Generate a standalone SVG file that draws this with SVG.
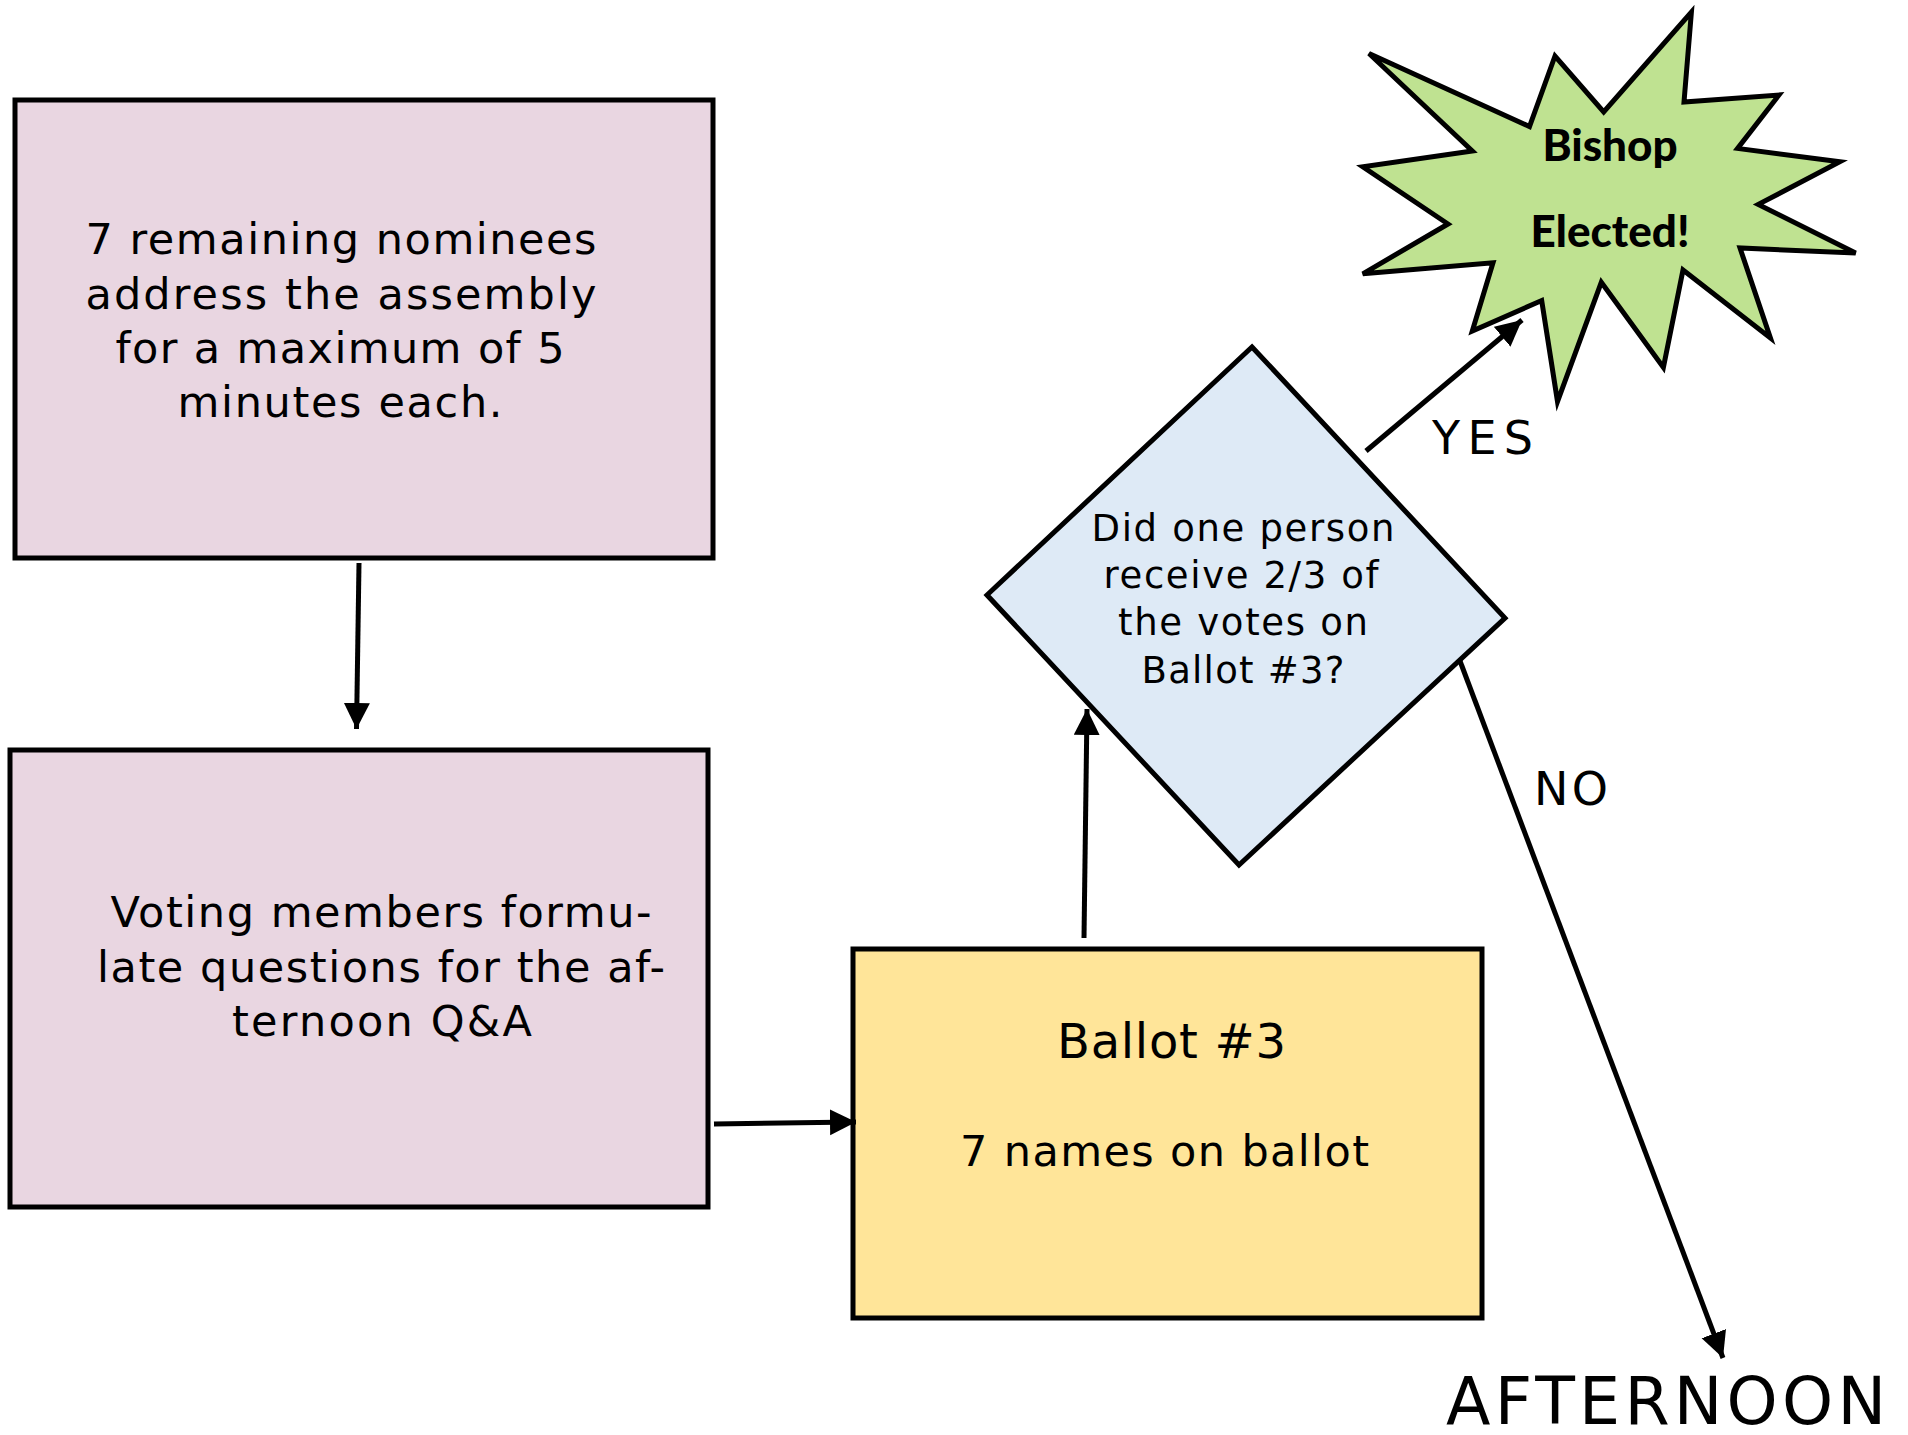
<svg xmlns="http://www.w3.org/2000/svg" width="1908" height="1435" viewBox="0 0 1908 1435">
<style>
.box{stroke:#000;stroke-width:5}
.t{font-family:"DejaVu Sans",Verdana,sans-serif;fill:#000;text-anchor:middle}
.lbl{font-family:"DejaVu Sans",Verdana,sans-serif;fill:#000}
.conn{stroke:#000;stroke-width:5;fill:none;marker-end:url(#ah)}
.burst{font-family:Lato,"Liberation Sans",sans-serif;font-weight:900;fill:#000;text-anchor:middle}
</style>
<defs>
<marker id="ah" markerUnits="userSpaceOnUse" markerWidth="28" markerHeight="28" refX="26" refY="13" orient="auto">
<path d="M0,0 L26,13 L0,26 z" fill="#000"/>
</marker>
</defs>
<rect width="1908" height="1435" fill="#fff"/>
<g id="box1">
<rect class="box" x="15" y="100" width="698" height="458" fill="#E9D6E1"/>
<text class="t" font-size="43"><tspan x="341" y="254" textLength="511">7 remaining nominees</tspan><tspan x="341" y="309" textLength="511">address the assembly</tspan><tspan x="340" y="363" textLength="449">for a maximum of 5</tspan><tspan x="340" y="417" textLength="325">minutes each.</tspan></text>
</g>
<g id="box2">
<rect class="box" x="10" y="750" width="698" height="457" fill="#E9D6E1"/>
<text class="t" font-size="43"><tspan x="381" y="927" textLength="541">Voting members formu-</tspan><tspan x="381" y="982" textLength="568">late questions for the af-</tspan><tspan x="382" y="1036" textLength="300">ternoon Q&amp;A</tspan></text>
</g>
<g id="ballot">
<rect class="box" x="853" y="949" width="629" height="369" fill="#FFE599"/>
<text class="t" font-size="48"><tspan x="1171.5" y="1058" textLength="229">Ballot #3</tspan></text>
<text class="t" font-size="43"><tspan x="1164.5" y="1166" textLength="409">7 names on ballot</tspan></text>
</g>
<g id="decision">
<polygon class="box" points="1252,347 1505,618 1239,865 987,595" fill="#DEEAF6"/>
<text class="t" font-size="37"><tspan x="1243" y="541" textLength="303">Did one person</tspan><tspan x="1241" y="588" textLength="275">receive 2/3 of</tspan><tspan x="1243" y="635" textLength="250">the votes on</tspan><tspan x="1243" y="683" textLength="203">Ballot #3?</tspan></text>
</g>
<g id="elected">
<polygon class="box" points="1369,53.5 1529.5,126.5 1555,56 1603.7,112 1691.4,12.2 1684,102 1779,95 1737.6,148.4 1839.8,161.8 1758.3,204.4 1855.6,253 1740,248 1770.4,338 1683,270 1663.4,367.5 1601.3,282.3 1557.5,401.5 1541.7,300.5 1472.3,331 1493,262.8 1362.8,273.8 1448,224 1362.8,166.7 1472.3,150.9" fill="#BFE291"/>
<text class="burst" font-size="44"><tspan x="1610" y="161">Bishop</tspan><tspan x="1610" y="247">Elected!</tspan></text>
</g>
<g id="afternoon">
<text class="lbl" x="1446" y="1424" font-size="65" textLength="440">AFTERNOON</text>
</g>
<g id="connectors">
<line class="conn" x1="359" y1="563" x2="356.5" y2="729"/>
<line class="conn" x1="714" y1="1124" x2="856" y2="1122"/>
<line class="conn" x1="1084" y1="938" x2="1087" y2="709"/>
<line class="conn" x1="1366" y1="451" x2="1522" y2="320"/>
<line class="conn" x1="1460" y1="661" x2="1723" y2="1358"/>
<text class="lbl" x="1432" y="454" font-size="46" textLength="101">YES</text>
<text class="lbl" x="1534" y="805" font-size="46" textLength="74">NO</text>
</g>
</svg>
